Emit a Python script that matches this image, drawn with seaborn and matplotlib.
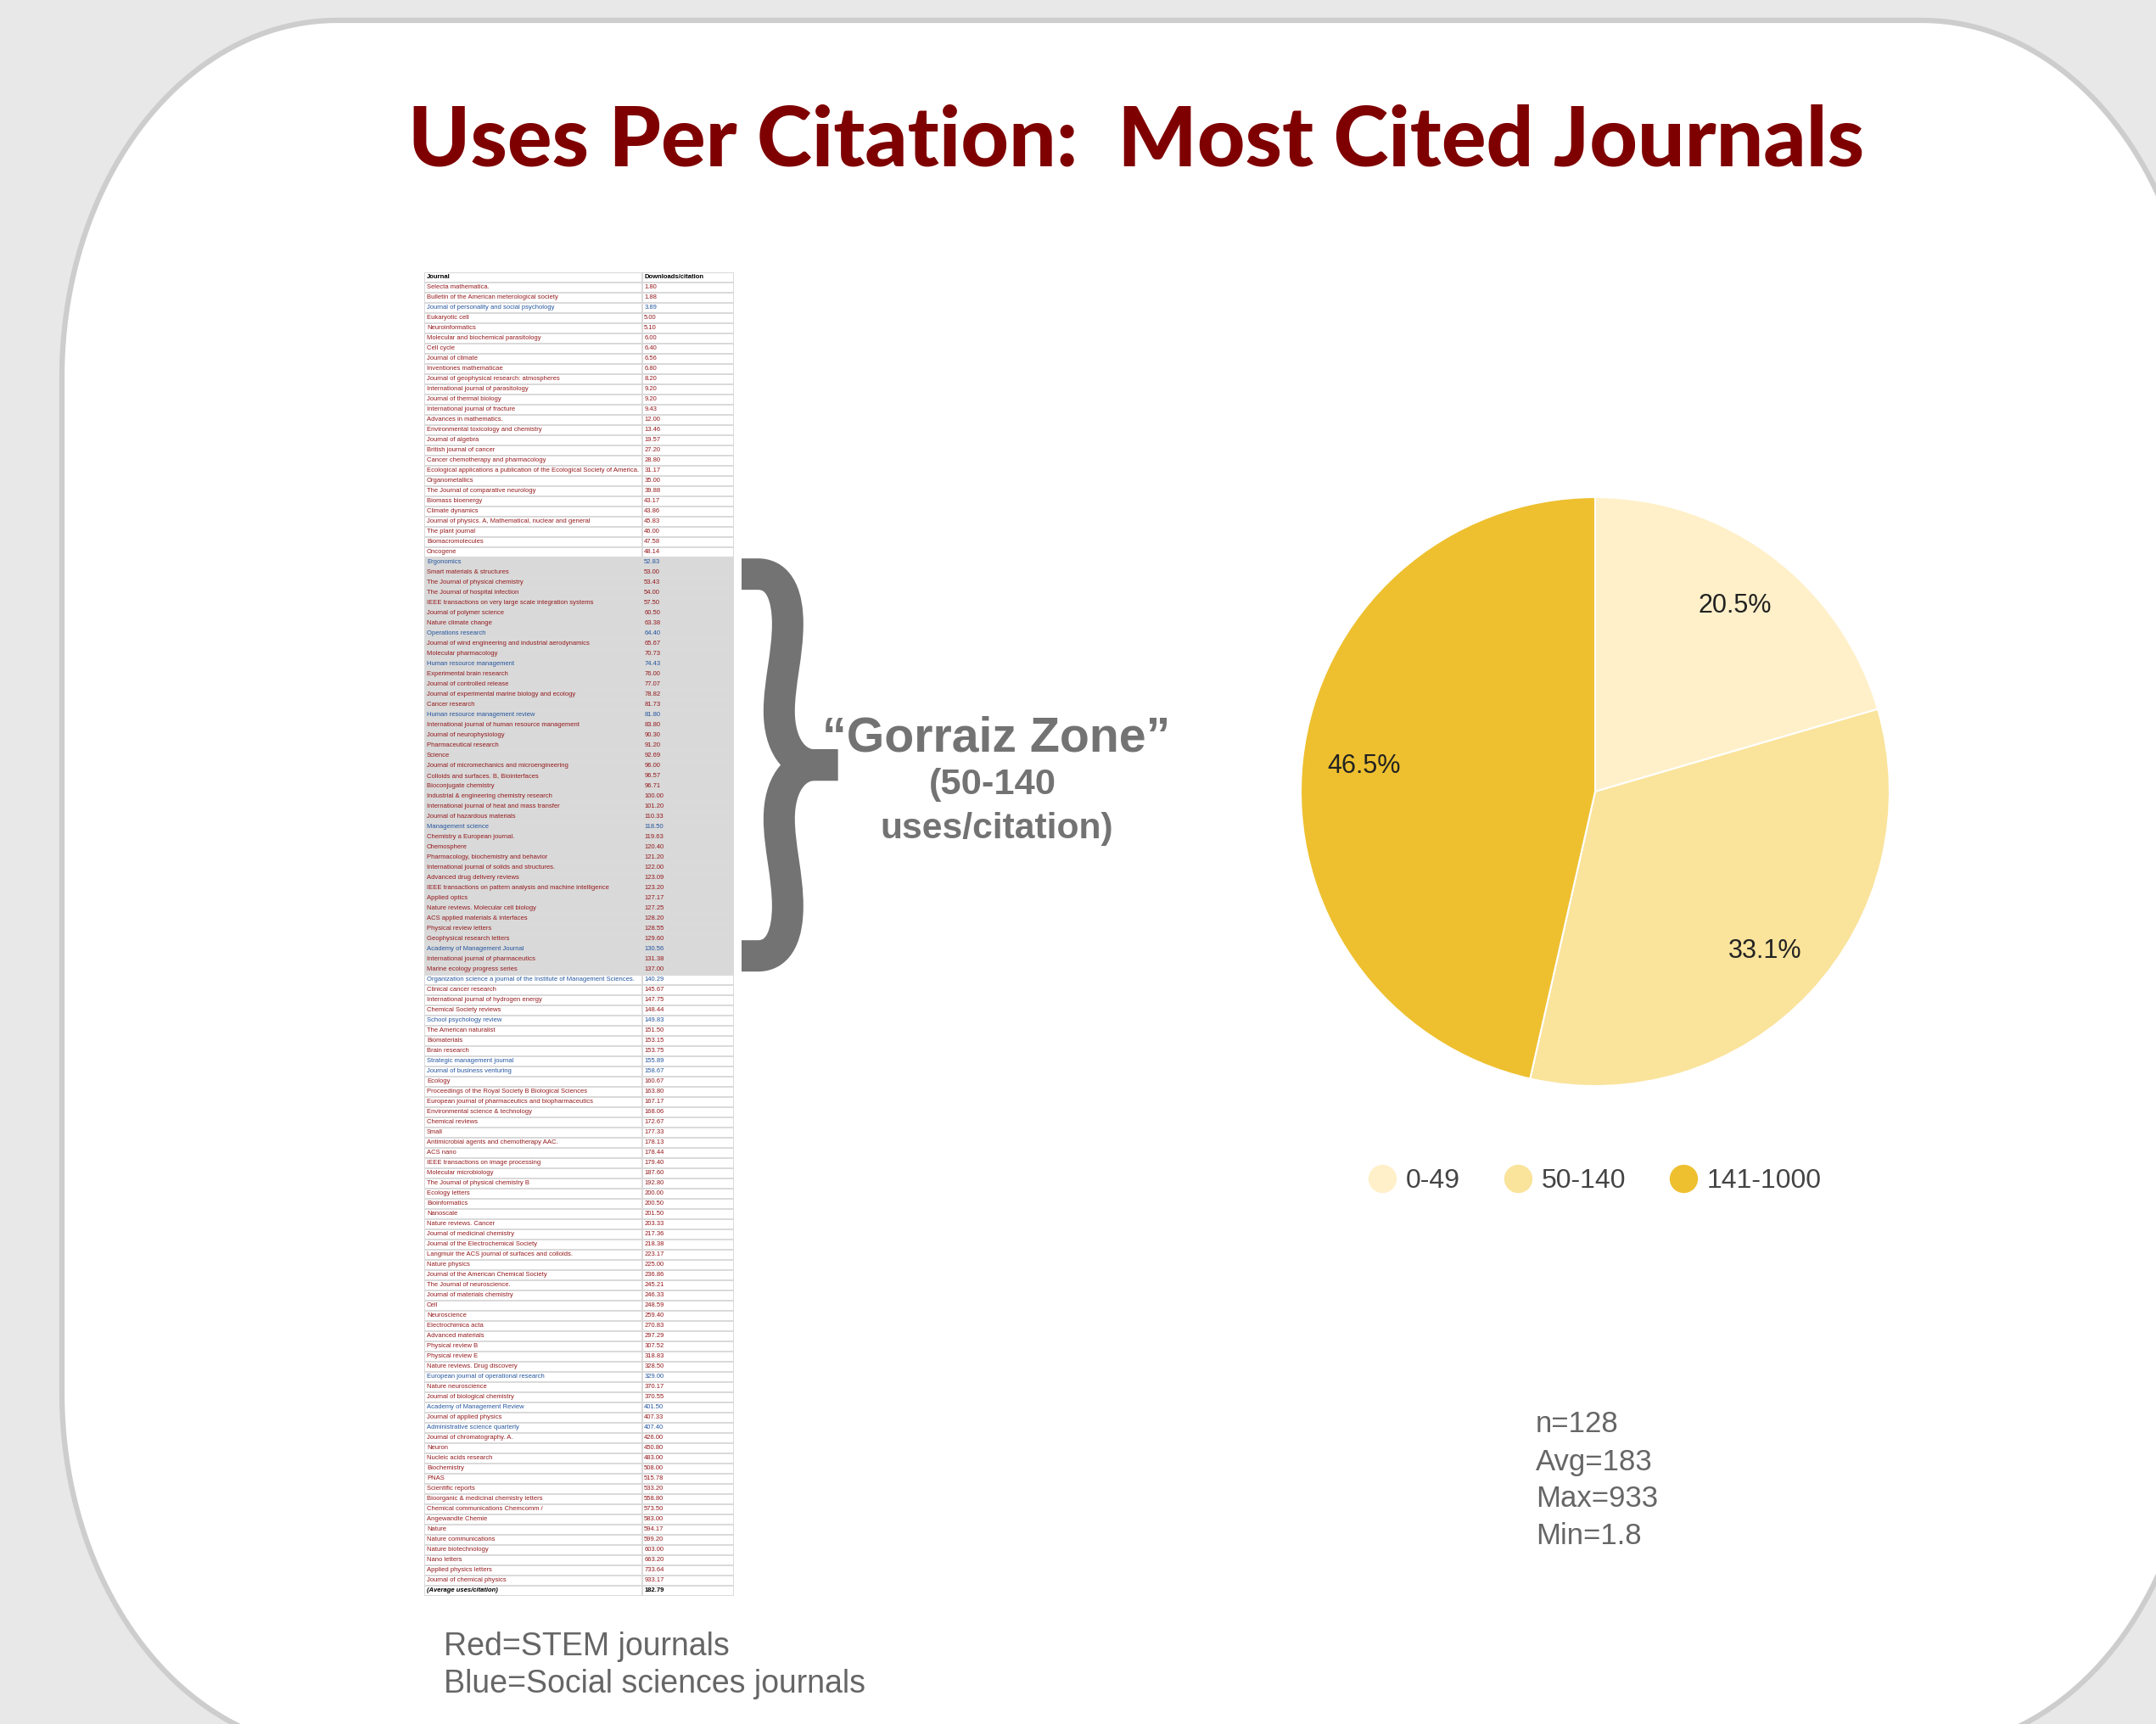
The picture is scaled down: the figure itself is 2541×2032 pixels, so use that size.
import numpy as np
import matplotlib
matplotlib.use("Agg")
import matplotlib.pyplot as plt
import seaborn as sns
from matplotlib.colors import ListedColormap
from matplotlib.path import Path
from matplotlib.patches import PathPatch
from matplotlib.lines import Line2D

# ---------------- data ----------------
journals = [
    "Selecta mathematica.", "Bulletin of the American meterological society",
    "Journal of personality and social psychology", "Eukaryotic cell", "Neuroinformatics",
    "Molecular and biochemical parasitology", "Cell cycle", "Journal of climate",
    "Inventiones mathematicae", "Journal of geophysical research: atmospheres",
    "International journal of parasitology", "Journal of thermal biology",
    "International journal of fracture", "Advances in mathematics.",
    "Environmental toxicology and chemistry", "Journal of algebra", "British journal of cancer",
    "Cancer chemotherapy and pharmacology",
    "Ecological applications a publication of the Ecological Society of America.",
    "Organometallics", "The Journal of comparative neurology", "Biomass bioenergy",
    "Climate dynamics", "Journal of physics. A, Mathematical, nuclear and general",
    "The plant journal", "Biomacromolecules", "Oncogene", "Ergonomics",
    "Smart materials & structures", "The Journal of physical chemistry",
    "The Journal of hospital infection", "IEEE transactions on very large scale integration systems",
    "Journal of polymer science", "Nature climate change", "Operations research",
    "Journal of wind engineering and industrial aerodynamics", "Molecular pharmacology",
    "Human resource management", "Experimental brain research", "Journal of controlled release",
    "Journal of experimental marine biology and ecology", "Cancer research",
    "Human resource management review", "International journal of human resource management",
    "Journal of neurophysiology", "Pharmaceutical research", "Science",
    "Journal of micromechanics and microengineering", "Colloids and surfaces. B, Biointerfaces",
    "Bioconjugate chemistry", "Industrial & engineering chemistry research",
    "International journal of heat and mass transfer", "Journal of hazardous materials",
    "Management science", "Chemistry a European journal.", "Chemosphere",
    "Pharmacology, biochemistry and behavior", "International journal of solids and structures.",
    "Advanced drug delivery reviews", "IEEE transactions on pattern analysis and machine intelligence",
    "Applied optics", "Nature reviews. Molecular cell biology", "ACS applied materials & interfaces",
    "Physical review letters", "Geophysical research letters", "Academy of Management Journal",
    "International journal of pharmaceutics", "Marine ecology progress series",
    "Organization science a journal of the Institute of Management Sciences.",
    "Clinical cancer research", "International journal of hydrogen energy",
    "Chemical Society reviews", "School psychology review", "The American naturalist",
    "Biomaterials", "Brain research", "Strategic management journal",
    "Journal of business venturing", "Ecology", "Proceedings of the Royal Society B Biological Sciences",
    "European journal of pharmaceutics and biopharmaceutics", "Environmental science & technology",
    "Chemical reviews", "Small", "Antimicrobial agents and chemotherapy AAC.", "ACS nano",
    "IEEE transactions on image processing", "Molecular microbiology",
    "The Journal of physical chemistry B", "Ecology letters", "Bioinformatics", "Nanoscale",
    "Nature reviews. Cancer", "Journal of medicinal chemistry",
    "Journal of the Electrochemical Society", "Langmuir the ACS journal of surfaces and colloids.",
    "Nature physics", "Journal of the American Chemical Society", "The Journal of neuroscience.",
    "Journal of materials chemistry", "Cell", "Neuroscience", "Electrochimica acta",
    "Advanced materials", "Physical review B", "Physical review E", "Nature reviews. Drug discovery",
    "European journal of operational research", "Nature neuroscience",
    "Journal of biological chemistry", "Academy of Management Review", "Journal of applied physics",
    "Administrative science quarterly", "Journal of chromatography. A.", "Neuron",
    "Nucleic acids research", "Biochemistry", "PNAS", "Scientific reports",
    "Bioorganic & medicinal chemistry letters", "Chemical communications Chemcomm /",
    "Angewandte Chemie", "Nature", "Nature communications", "Nature biotechnology",
    "Nano letters", "Applied physics letters", "Journal of chemical physics",
]
uses_per_citation = [
    1.80, 1.88, 3.89, 5.00, 5.10, 6.00, 6.40, 6.56, 6.80, 8.20,
    9.20, 9.20, 9.43, 12.00, 13.46, 19.57, 27.20, 28.80, 31.17, 35.00,
    39.88, 43.17, 43.86, 45.83, 46.00, 47.58, 48.14, 52.83, 53.00, 53.43,
    54.00, 57.50, 60.50, 63.38, 64.40, 65.67, 70.73, 74.43, 76.00, 77.07,
    78.82, 81.73, 81.80, 83.80, 90.30, 91.20, 92.69, 96.00, 96.57, 96.71,
    100.00, 101.20, 110.33, 118.50, 119.63, 120.40, 121.20, 122.00, 123.09, 123.20,
    127.17, 127.25, 128.20, 128.55, 129.60, 130.56, 131.38, 137.00, 140.29, 145.67,
    147.75, 148.44, 149.83, 151.50, 153.15, 153.75, 155.89, 158.67, 160.67, 163.80,
    167.17, 168.06, 172.67, 177.33, 178.13, 178.44, 179.40, 187.60, 192.80, 200.00,
    200.50, 201.50, 203.33, 217.36, 218.38, 223.17, 225.00, 236.86, 245.21, 246.33,
    248.59, 259.40, 270.83, 297.29, 307.52, 318.83, 328.50, 329.00, 370.17, 370.55,
    401.50, 407.33, 407.40, 426.00, 450.80, 483.00, 508.00, 515.78, 533.20, 558.80,
    573.50, 583.00, 594.17, 599.20, 603.00, 663.20, 733.64, 933.17,
]
field = [  # S = STEM (red), B = social sciences (blue)
    "S", "S", "B", "S", "S", "S", "S", "S", "S", "S",
    "S", "S", "S", "S", "S", "S", "S", "S", "S", "S",
    "S", "S", "S", "S", "S", "S", "S", "B", "S", "S",
    "S", "S", "S", "S", "B", "S", "S", "B", "S", "S",
    "S", "S", "B", "S", "S", "S", "S", "S", "S", "S",
    "S", "S", "S", "B", "S", "S", "S", "S", "S", "S",
    "S", "S", "S", "S", "S", "B", "S", "S", "B", "S",
    "S", "S", "B", "S", "S", "S", "B", "B", "S", "S",
    "S", "S", "S", "S", "S", "S", "S", "S", "S", "S",
    "S", "S", "S", "S", "S", "S", "S", "S", "S", "S",
    "S", "S", "S", "S", "S", "S", "S", "B", "S", "S",
    "B", "S", "B", "S", "S", "S", "S", "S", "S", "S",
    "S", "S", "S", "S", "S", "S", "S", "S",
]
header_labels = ["Journal", "Downloads/citation"]
average_label = "(Average uses/citation)"
average_value = "182.79"
zone_low, zone_high = 50, 140

pie_labels = ["0-49", "50-140", "141-1000"]
pie_share = [20.5, 33.1, 46.5]
pie_colors = ["#FFF0C9", "#FAE39B", "#EEC02F"]

stats_lines = ["n=128", "Avg=183", "Max=933", "Min=1.8"]
note_lines = ["Red=STEM journals", "Blue=Social sciences journals"]
title_text = "Uses Per Citation:  Most Cited Journals"
zone_lines = ["\u201cGorraiz Zone\u201d", "(50-140", "uses/citation)"]

# ---------------- figure ----------------
W, H = 2541, 2032
sns.set_theme(style="white")
plt.rcParams["font.family"] = ["Liberation Sans", "DejaVu Sans"]
fig = plt.figure(figsize=(W / 100, H / 100), dpi=100, facecolor="#E8E8E8")

def fx(px):
    return px / W

def fy(py):
    return 1 - py / H

# overlay axes in pixel coords (y down)
bg = fig.add_axes([0, 0, 1, 1])
bg.set_xlim(0, W)
bg.set_ylim(H, 0)
bg.axis("off")
bg.set_zorder(0)

def rounded_rect(x0, y0, x1, y1, rx, ry, n=80):
    pts = []
    for (cx, cy, a0, a1) in [(x0 + rx, y0 + ry, np.pi, 1.5 * np.pi),
                             (x1 - rx, y0 + ry, 1.5 * np.pi, 2 * np.pi),
                             (x1 - rx, y1 - ry, 0, 0.5 * np.pi),
                             (x0 + rx, y1 - ry, 0.5 * np.pi, np.pi)]:
        t = np.linspace(a0, a1, n)
        pts.extend(zip(cx + rx * np.cos(t), cy + ry * np.sin(t)))
    pts.append(pts[0])
    codes = [Path.MOVETO] + [Path.LINETO] * (len(pts) - 2) + [Path.CLOSEPOLY]
    return Path(pts, codes)

slide = PathPatch(rounded_rect(73, 24, 2589, 2062, 324, 420), facecolor="white",
                  edgecolor="#CDCDCD", linewidth=4.5)
bg.add_patch(slide)

renderer = fig.canvas.get_renderer()

def fit(txt, target_px):
    bb = txt.get_window_extent(renderer)
    txt.set_fontsize(txt.get_fontsize() * target_px / bb.width)

# title
t = bg.text(1339, 195, title_text, ha="center", va="baseline", color="#7F0000",
            fontsize=60, fontweight="black", family=["Lato", "Liberation Sans", "DejaVu Sans"])
fit(t, 1716)

# ---------------- table (seaborn heatmaps) ----------------
n = len(journals)
rows = n + 2
in_zone = [1.0 if zone_low <= v <= zone_high else 0.0 for v in uses_per_citation]
zone_col = np.array([0.0] + in_zone + [0.0]).reshape(-1, 1)
cmap = ListedColormap(["#FFFFFF", "#D9D9D9"])
top, row_h = 321, 12.0
tab_h = rows * row_h
col_edges = [500, 757, 865]
text_colors = {"S": "#951B1E", "B": "#24569F"}
table_fs = 5.5
for ci in range(2):
    ax = fig.add_axes([fx(col_edges[ci]), fy(top + tab_h),
                       fx(col_edges[ci + 1] - col_edges[ci]), tab_h / H])
    sns.heatmap(zone_col, cmap=cmap, vmin=0, vmax=1, cbar=False, linewidths=1.3,
                linecolor="#DADADA", xticklabels=False, yticklabels=False, ax=ax)
    ax.set_zorder(2)
    xpos = 0.012 if ci == 0 else 0.02
    ax.text(xpos, 0.5, header_labels[ci], ha="left", va="center", fontsize=table_fs,
            fontweight="bold", color="black")
    for i in range(n):
        s = journals[i] if ci == 0 else f"{uses_per_citation[i]:.2f}"
        ax.text(xpos, i + 1.5, s, ha="left", va="center", fontsize=table_fs,
                color=text_colors[field[i]])
    s = average_label if ci == 0 else average_value
    ax.text(xpos, n + 1.5, s, ha="left", va="center", fontsize=table_fs,
            fontweight="bold", fontstyle="italic" if ci == 0 else "normal", color="black")

# ---------------- brace + zone label ----------------
def bz(xz, yz):
    return (860 + xz / 3, 640 + yz / 3)

upper = [bz(42, 110), bz(100, 110), bz(180, 110), bz(205, 195), bz(205, 285),
         bz(205, 395), bz(175, 495), bz(175, 595), bz(175, 715), bz(230, 785),
         bz(300, 785), bz(382, 785)]
ucodes = [Path.MOVETO, Path.LINETO] + [Path.CURVE4] * 9 + [Path.LINETO]
ymid = 640 + 785 / 3
lower = [(x, 2 * ymid - y) for (x, y) in upper]
brace = Path(upper + lower, ucodes + ucodes)
bg.add_patch(PathPatch(brace, facecolor="none", edgecolor="#737373", linewidth=26.6,
                       capstyle="butt", joinstyle="round", zorder=3))

z1 = bg.text(1174, 870, zone_lines[0], ha="center", va="center", color="#737373",
             fontsize=40, fontweight="bold")
fit(z1, 410)
z2 = bg.text(1170, 925, zone_lines[1], ha="center", va="center", color="#737373",
             fontsize=28, fontweight="bold")
fit(z2, 150)
z3 = bg.text(1175, 977, zone_lines[2], ha="center", va="center", color="#737373",
             fontsize=28, fontweight="bold")
fit(z3, 275)

# ---------------- pie ----------------
R = 347
half = 1.2 * R
axp = fig.add_axes([fx(1880 - half), fy(933 + half), 2 * half / W, 2 * half / H])
axp.pie(pie_share, colors=pie_colors, startangle=90, counterclock=False, radius=1,
        autopct="%.1f%%", pctdistance=0.79,
        wedgeprops=dict(edgecolor="white", linewidth=1.5),
        textprops=dict(fontsize=22, color="#222222"))
axp.set_xlim(-1.2, 1.2)
axp.set_ylim(-1.2, 1.2)
axp.set_aspect("equal")

handles = [Line2D([], [], marker="o", linestyle="", markersize=23,
                  markerfacecolor=c, markeredgecolor=c) for c in pie_colors]
fig.legend(handles, pie_labels, loc="center", bbox_to_anchor=(fx(1880), fy(1392)),
           ncol=3, frameon=False, fontsize=23, handlelength=1.0, handletextpad=0.35,
           columnspacing=1.65, labelcolor="#444444")

# ---------------- stats + notes ----------------
for i, s in enumerate(stats_lines):
    bg.text(1810, 1679 + i * 44, s, ha="left", va="center", fontsize=25, color="#666666")
for i, s in enumerate(note_lines):
    bg.text(523, 1941 + i * 44, s, ha="left", va="center", fontsize=27, color="#666666")

fig.savefig("out.png", dpi=100, facecolor=fig.get_facecolor())
